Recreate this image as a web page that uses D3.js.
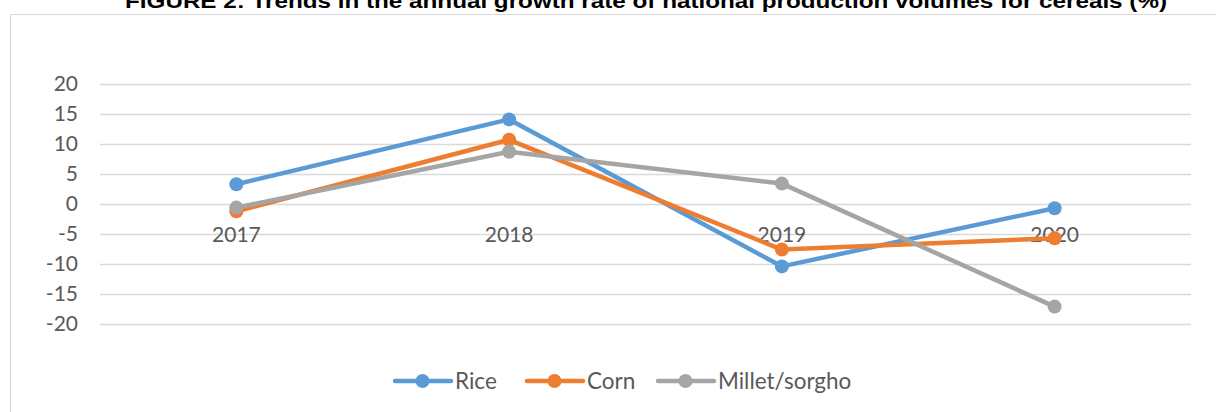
<!DOCTYPE html>
<html>
<head>
<meta charset="utf-8">
<script src="https://cdn.jsdelivr.net/npm/d3@7"></script>
<style>
  body { margin: 0; background: #fff; }
  svg { display: block; }
</style>
</head>
<body>
<div id="chart"></div>
<script>
// data
const years = ['2017', '2018', '2019', '2020'];
const rice = [3.3, 14.1, -10.4, -0.7];
const corn = [-1.2, 10.7, -7.6, -5.7];
const millet = [-0.6, 8.7, 3.4, -17.1];
const yTicks = [20, 15, 10, 5, 0, -5, -10, -15, -20];
const seriesNames = ['Rice', 'Corn', 'Millet/sorgho'];
const colors = ['#5B9BD5', '#ED7D31', '#A5A5A5'];

const series = [rice, corn, millet].map((vals, i) => ({
  name: seriesNames[i],
  color: colors[i],
  values: vals.map((v, j) => ({ year: years[j], value: v }))
}));

const width = 1216, height = 412;
const font = "Lato, 'Open Sans', sans-serif";

const svg = d3.select('#chart').append('svg')
  .attr('width', width)
  .attr('height', height);

// chart area border (top + left visible)
svg.append('rect')
  .attr('x', 10.5).attr('y', 14.5)
  .attr('width', 1230).attr('height', 420)
  .attr('fill', 'none')
  .attr('stroke', '#D9D9D9')
  .attr('stroke-width', 1);

// title, cut off at the top like in the source
svg.append('text')
  .attr('x', 125).attr('y', 8)
  .attr('font-family', 'Liberation Sans, Arial, sans-serif')
  .attr('font-weight', 'bold')
  .attr('font-size', 20)
  .attr('textLength', 1042)
  .attr('lengthAdjust', 'spacingAndGlyphs')
  .attr('fill', '#000')
  .text('FIGURE 2: Trends in the annual growth rate of national production volumes for cereals (%)');

// scales
const x = d3.scaleBand()
  .domain(years)
  .range([100, 1191]);

const y = d3.scaleLinear()
  .domain([-20, 20])
  .range([324, 84]);

// gridlines
svg.append('g')
  .selectAll('line')
  .data(yTicks)
  .enter()
  .append('line')
  .attr('x1', 100).attr('x2', 1191)
  .attr('y1', d => Math.round(y(d)) + 0.5)
  .attr('y2', d => Math.round(y(d)) + 0.5)
  .attr('stroke', '#D9D9D9')
  .attr('stroke-width', 1.3);

// y-axis labels (plain hyphen minus like Excel)
const yAxis = svg.append('g')
  .attr('transform', 'translate(78,0)')
  .call(d3.axisLeft(y).tickValues(yTicks).tickSize(0).tickPadding(0)
    .tickFormat(d => String(d)));
yAxis.select('.domain').remove();
yAxis.selectAll('text')
  .attr('font-family', font)
  .attr('font-size', 21)
  .attr('fill', '#595959');

// category labels sit just below the zero line
const xAxis = svg.append('g')
  .attr('transform', `translate(0,${y(0)})`)
  .call(d3.axisBottom(x).tickSize(0).tickPadding(23));
xAxis.select('.domain').remove();
xAxis.selectAll('text')
  .attr('font-family', font)
  .attr('font-size', 21)
  .attr('fill', '#595959');

// lines + markers
const line = d3.line()
  .x(d => x(d.year) + x.bandwidth() / 2)
  .y(d => y(d.value));

series.forEach(s => {
  svg.append('path')
    .datum(s.values)
    .attr('fill', 'none')
    .attr('stroke', s.color)
    .attr('stroke-width', 4.5)
    .attr('stroke-linejoin', 'round')
    .attr('stroke-linecap', 'round')
    .attr('d', line);

  svg.selectAll(null)
    .data(s.values)
    .enter()
    .append('circle')
    .attr('cx', d => x(d.year) + x.bandwidth() / 2)
    .attr('cy', d => y(d.value))
    .attr('r', 7)
    .attr('fill', s.color);
});

// legend
const legendX = [395, 527, 658];
const legend = svg.append('g');
series.forEach((s, i) => {
  const g = legend.append('g').attr('transform', `translate(${legendX[i]},381)`);
  g.append('line')
    .attr('x1', 0).attr('x2', 56)
    .attr('stroke', s.color)
    .attr('stroke-width', 4.5)
    .attr('stroke-linecap', 'round');
  g.append('circle')
    .attr('cx', 27.5).attr('r', 7)
    .attr('fill', s.color);
  g.append('text')
    .attr('x', 60).attr('y', 0)
    .attr('dy', '0.35em')
    .attr('font-family', font)
    .attr('font-size', 22.5)
    .attr('fill', '#595959')
    .text(s.name);
});
</script>
</body>
</html>
